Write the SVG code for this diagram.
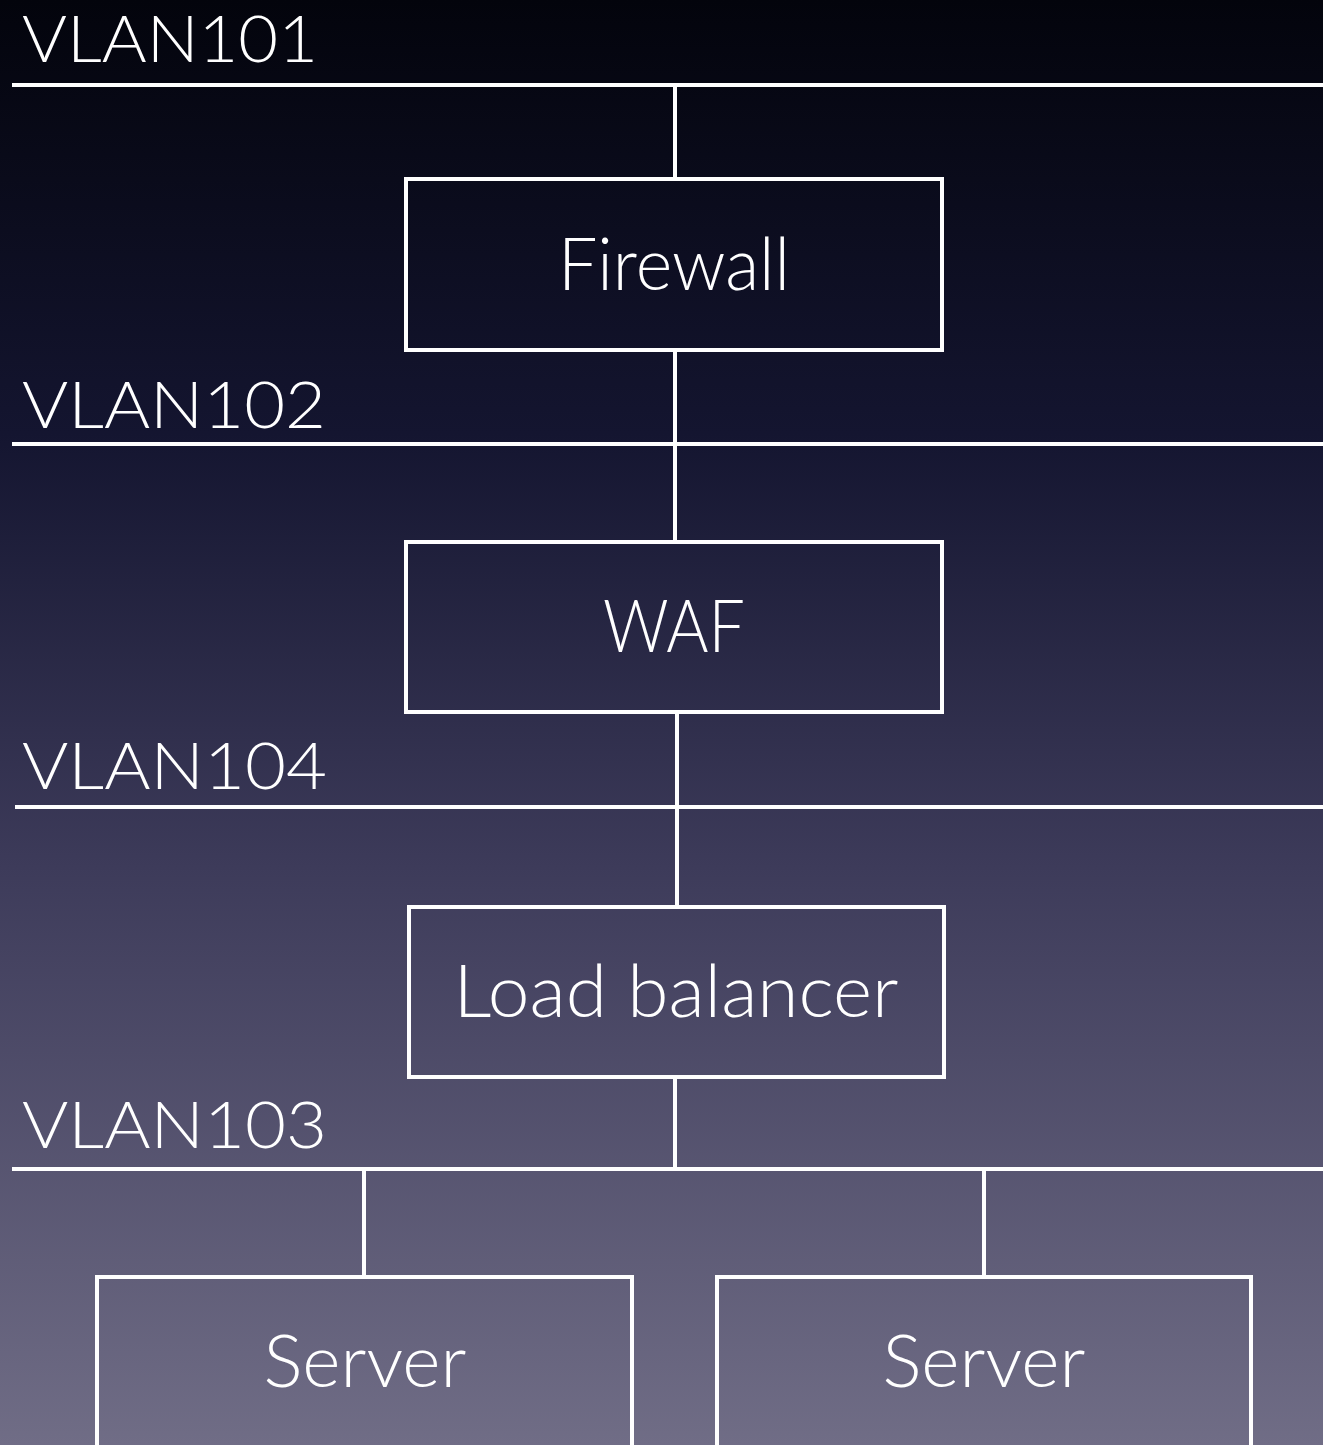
<svg xmlns="http://www.w3.org/2000/svg" width="1323" height="1445" viewBox="0 0 1323 1445">
<defs>
<linearGradient id="bg" x1="0" y1="0" x2="0" y2="1">
<stop offset="0" stop-color="#03040c"/>
<stop offset="0.3" stop-color="#141530"/>
<stop offset="0.6" stop-color="#3d3b5a"/>
<stop offset="1" stop-color="#706d86"/>
</linearGradient>
<style>
.ln{stroke:#ffffff;stroke-width:4;fill:none}
.box{stroke:#ffffff;stroke-width:4;fill:none}
.lbl{fill:#ffffff;font-family:Lato,"Noto Sans",sans-serif;font-weight:300;font-size:66px}
.txt{fill:#ffffff;font-family:Lato,"Noto Sans",sans-serif;font-weight:300;font-size:72px;text-anchor:middle}
</style>
</defs>
<rect x="0" y="0" width="1323" height="1445" fill="url(#bg)"/>
<g id="vlans">
<text class="lbl" x="22" y="62" textLength="296" lengthAdjust="spacingAndGlyphs">VLAN101</text>
<text class="lbl" x="22" y="428" textLength="304" lengthAdjust="spacingAndGlyphs">VLAN102</text>
<text class="lbl" x="22" y="789" textLength="305" lengthAdjust="spacingAndGlyphs">VLAN104</text>
<text class="lbl" x="22" y="1148" textLength="305" lengthAdjust="spacingAndGlyphs">VLAN103</text>
</g>
<g id="connectors">
<line class="ln" x1="12" y1="85" x2="1323" y2="85"/>
<line class="ln" x1="12" y1="444" x2="1323" y2="444"/>
<line class="ln" x1="15" y1="807" x2="1323" y2="807"/>
<line class="ln" x1="12" y1="1169" x2="1323" y2="1169"/>
<line class="ln" x1="675" y1="85" x2="675" y2="179"/>
<line class="ln" x1="675" y1="350" x2="675" y2="542"/>
<line class="ln" x1="677" y1="712" x2="677" y2="907"/>
<line class="ln" x1="675" y1="1077" x2="675" y2="1169"/>
<line class="ln" x1="364" y1="1169" x2="364" y2="1277"/>
<line class="ln" x1="984" y1="1169" x2="984" y2="1277"/>
</g>
<g id="firewall">
<rect class="box" x="406" y="179" width="536" height="171"/>
<text class="txt" x="674" y="290" textLength="232" lengthAdjust="spacingAndGlyphs">Firewall</text>
</g>
<g id="waf">
<rect class="box" x="406" y="542" width="536" height="170"/>
<text class="txt" x="674" y="652" textLength="142" lengthAdjust="spacingAndGlyphs">WAF</text>
</g>
<g id="loadbalancer">
<rect class="box" x="409" y="907" width="535" height="170"/>
<text class="txt" x="676" y="1017" textLength="445" lengthAdjust="spacingAndGlyphs">Load balancer</text>
</g>
<g id="server1">
<rect class="box" x="97" y="1277" width="535" height="180"/>
<text class="txt" x="365" y="1387" textLength="203" lengthAdjust="spacingAndGlyphs">Server</text>
</g>
<g id="server2">
<rect class="box" x="717" y="1277" width="534" height="180"/>
<text class="txt" x="984" y="1387" textLength="203" lengthAdjust="spacingAndGlyphs">Server</text>
</g>
</svg>
